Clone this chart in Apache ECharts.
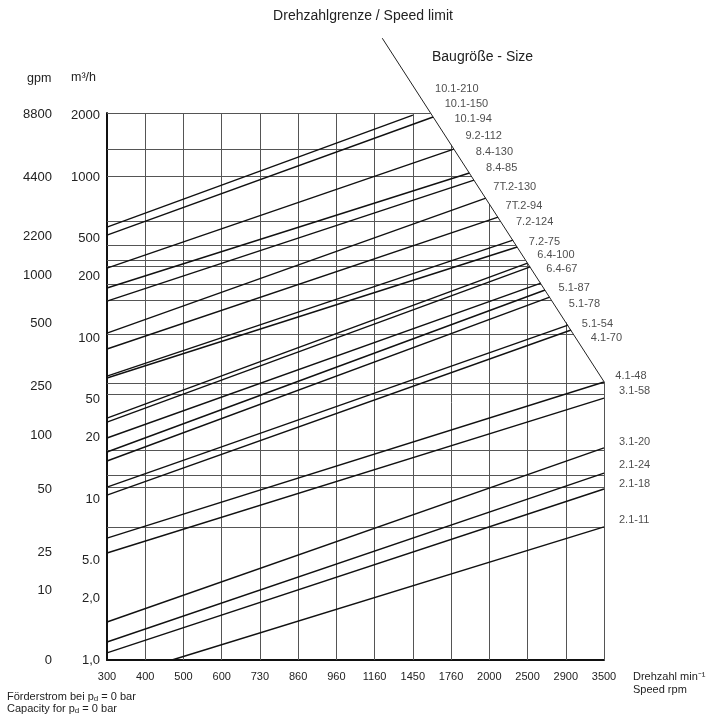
<!DOCTYPE html>
<html><head><meta charset="utf-8">
<script src="https://cdn.jsdelivr.net/npm/echarts@6/dist/echarts.min.js"></script>
<style>html,body{margin:0;padding:0;background:#fff}#c{width:707px;height:715px}</style>
</head><body><div id="c"></div>
<script>
// ---- data (y in chart scale units, 100 units per flow decade) ----
const speedLabels = ['300','400','500','600','730','860','960','1160','1450','1760','2000','2500','2900','3500'];
const flowLabels  = ['1,0','2,0','5.0','10','20','50','100','200','500','1000','2000'];
const flowTicks   = [0, 38.5, 62, 100, 138.5, 162, 200, 238.5, 262, 300, 338.5];
const gpmLabels   = ['0','10','25','50','100','250','500','1000','2200','4400','8800'];
const gpmTicks    = [0, 43.5, 67, 106, 139.5, 170, 209, 239, 263, 300, 339];
const sizes  = ['10.1-210','10.1-150','10.1-94','9.2-112','8.4-130','8.4-85','7T.2-130','7T.2-94','7.2-124','7.2-75','6.4-100','6.4-67','5.1-87','5.1-78','5.1-54','4.1-70','4.1-48','3.1-58','3.1-20','2.1-24','2.1-18','2.1-11'];
const startX = [0,0,0,0,0,0,0,0,0,0,0,0,0,0,0,0,0,0,0,0,0,1.7];
const startU = [269.1,264.1,243.6,231.2,223.1,203.2,193.3,176.5,175.3,150.4,147.9,138.0,129.3,123.7,107.5,102.5,75.8,66.5,23.6,11.2,4.4,0];
const endX   = [8.0,8.53,9.07,9.48,9.6,9.91,10.23,10.62,10.73,11.0,11.07,11.35,11.46,11.58,12.06,12.14,13,13,13,13,13,13];
const endU   = [338.7,337.5,317.6,302.7,298.3,287.1,275.3,261.0,256.7,246.7,244.3,234.3,230.0,225.6,208.2,205.1,172.8,162.8,131.8,116.2,106.3,82.7];
const hGrid  = [340,317.6,300.8,272.8,257.9,248.6,244.9,233.7,223.7,202.6,172.2,165.3,130.5,115.0,107.5,82.7];
const speedLimit = [[7.2,386.5],[13,173]];
const labelRows = [354.9,345.6,336.2,325.7,315.7,305.8,294.0,282.2,272.2,259.8,251.7,243.0,231.2,221.3,208.8,200.1,176.5,167.2,135.5,121.2,109.4,87.0];

const Y_MAX = 340, X_MAX = 13;
const FONT = '"Liberation Sans", Arial, Helvetica, sans-serif';
function diagX(u){ const a=speedLimit[0], b=speedLimit[1]; return a[0] + (a[1]-u)/(a[1]-b[1])*(b[0]-a[0]); }
function diagU(x){ const a=speedLimit[0], b=speedLimit[1]; return a[1] - (x-a[0])/(b[0]-a[0])*(a[1]-b[1]); }
function lookup(ticks, labels){ return v => { const i = ticks.findIndex(t => Math.abs(t-v) < 0.01); return i<0 ? '' : labels[i]; }; }

const gridSegs = [];
hGrid.forEach(u => gridSegs.push({coords:[[0,u],[u >= speedLimit[1][1] ? Math.min(X_MAX, diagX(u)) : X_MAX, u]]}));
for (let i=1;i<=X_MAX;i++) gridSegs.push({coords:[[i,0],[i, Math.min(Y_MAX, diagU(i))]]});
const pumpSegs = sizes.map((s,i) => ({name:s, coords:[[startX[i],startU[i]],[endX[i],endU[i]]]}));
const labelPts = sizes.map((s,i) => ({name:s, value:[labelRows[i] >= speedLimit[1][1] ? diagX(labelRows[i]) : X_MAX, labelRows[i]],
  label:{distance: labelRows[i] > 300 ? 20 : 15}}));

const chart = echarts.init(document.getElementById('c'), null, {renderer:'canvas'});
chart.setOption({
  animation:false,
  backgroundColor:'#fff',
  grid:{left:107, right:103, top:113, bottom:55, containLabel:false},
  xAxis:{type:'value', min:0, max:X_MAX, interval:1,
    axisLine:{show:true, onZero:false, lineStyle:{color:'#111', width:2}},
    axisTick:{show:false}, splitLine:{show:false},
    axisLabel:{color:'#222', fontSize:11, fontFamily:FONT, margin:11, formatter:v => speedLabels[v] || ''}},
  yAxis:[
    {type:'value', min:0, max:Y_MAX, position:'left',
      axisLine:{show:true, onZero:false, lineStyle:{color:'#111', width:2}},
      axisTick:{show:false}, splitLine:{show:false},
      axisLabel:{customValues:flowTicks, color:'#222', fontSize:13, fontFamily:FONT, margin:7, formatter:lookup(flowTicks, flowLabels)}},
    {type:'value', min:0, max:Y_MAX, position:'left', offset:48,
      axisLine:{show:false}, axisTick:{show:false}, splitLine:{show:false},
      axisLabel:{customValues:gpmTicks, color:'#222', fontSize:13, fontFamily:FONT, margin:7, formatter:lookup(gpmTicks, gpmLabels)}}
  ],
  series:[
    {type:'lines', coordinateSystem:'cartesian2d', polyline:false, silent:true, clip:false,
      lineStyle:{color:'#555', width:1, opacity:1}, data:gridSegs, z:1},
    {type:'lines', coordinateSystem:'cartesian2d', polyline:false, silent:true, clip:false,
      lineStyle:{color:'#111', width:1.4, opacity:1}, data:pumpSegs, z:2},
    {type:'lines', coordinateSystem:'cartesian2d', polyline:false, silent:true, clip:false,
      lineStyle:{color:'#222', width:1, opacity:1}, data:[{coords:speedLimit}], z:3},
    {type:'scatter', symbolSize:0, silent:true, clip:false, data:labelPts, z:4,
      label:{show:true, position:'right', distance:16, formatter:p => p.name, color:'#222', fontSize:11, fontFamily:FONT}}
  ],
  graphic:[
    {type:'text', x:363, y:9, style:{text:'Drehzahlgrenze / Speed limit', fill:'#222', font:'14px '+FONT, textAlign:'center'}},
    {type:'text', x:432, y:50, style:{text:'Baugröße - Size', fill:'#222', font:'14px '+FONT}},
    {type:'text', x:27, y:72, style:{text:'gpm', fill:'#222', font:'12.5px '+FONT}},
    {type:'text', x:71, y:71, style:{text:'m³/h', fill:'#222', font:'12.5px '+FONT}},
    {type:'text', x:633, y:670, style:{text:'Drehzahl min⁻¹\nSpeed rpm', fill:'#222', font:'11px '+FONT, lineHeight:13}},
    {type:'text', x:7, y:691, style:{text:'Förderstrom bei p{s|d} = 0 bar\nCapacity for p{s|d} = 0 bar', fill:'#222', font:'11px '+FONT, lineHeight:12,
      rich:{s:{fontSize:8, fontFamily:FONT, verticalAlign:'bottom', lineHeight:12, fill:'#222'}}}}
  ]
});
</script></body></html>
